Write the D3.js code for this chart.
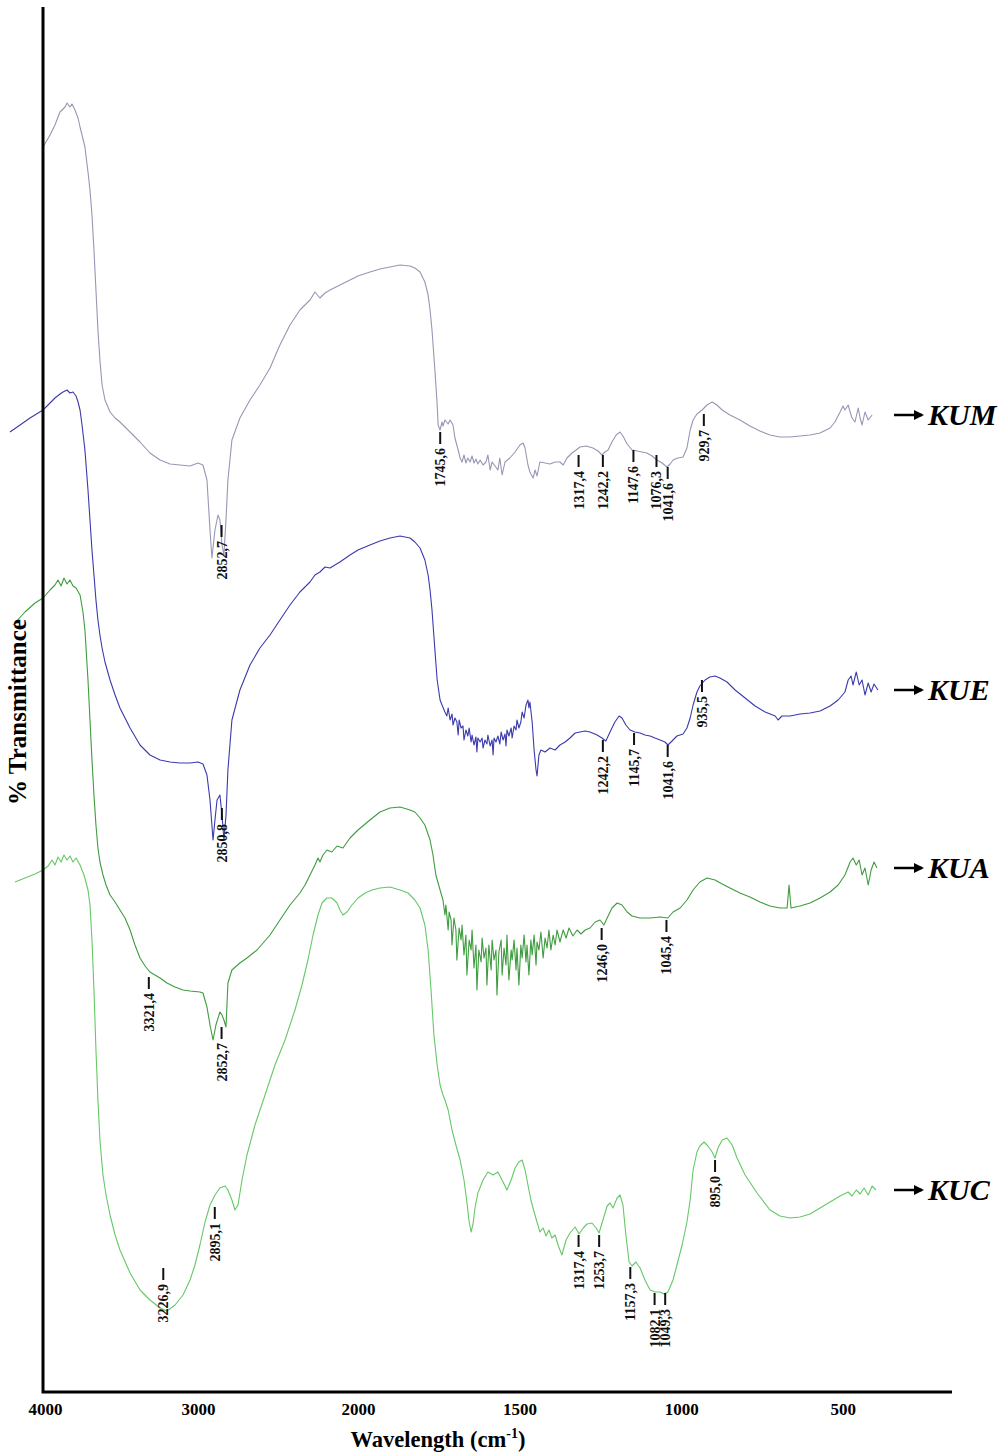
<!DOCTYPE html>
<html>
<head>
<meta charset="utf-8">
<script src="https://cdn.jsdelivr.net/npm/d3@7"></script>
<style>
  body { margin: 0; background: #fff; }
  svg { display: block; }
</style>
</head>
<body>
<svg id="chart" width="1005" height="1454"></svg>
<script>
// ---- data -------------------------------------------------------------
// x ticks (wavenumber, cm-1)
const tickValues = [4000, 3000, 2000, 1500, 1000, 500];

// sample names, top to bottom
const sampleNames = ["KUM", "KUE", "KUA", "KUC"];

// spectra: [wavenumber (cm-1), stacked transmittance (a.u.)]
const kumSpectrum = [
  [4013,124.5],[3967,125.7],[3935,126.7],[3902,128.0],[3869,128.5],[3856,128.9],[3837,128.5],
  [3824,128.8],[3804,128.2],[3784,127.4],[3771,126.5],[3758,125.7],[3739,124.5],[3719,122.0],
  [3706,120.2],[3693,117.7],[3680,114.2],[3667,110.2],[3654,106.2],[3641,103.2],[3627,100.7],
  [3608,99.2],[3575,98.0],[3542,97.4],[3510,97.0],[3444,96.0],[3379,95.0],[3314,93.9],
  [3248,93.2],[3183,92.8],[3118,92.7],[3052,92.6],[3000,92.9],[2969,92.7],[2944,91.2],
  [2925,86.2],[2913,83.4],[2894,86.2],[2875,87.7],[2863,87.2],[2850,84.7],[2838,83.7],
  [2825,87.2],[2813,91.2],[2788,95.2],[2738,97.4],[2675,99.2],[2613,100.7],[2550,102.4],
  [2488,104.7],[2425,106.7],[2363,108.2],[2300,109.2],[2269,110.0],[2238,109.4],[2206,109.9],
  [2175,110.2],[2113,110.7],[2050,111.2],[2000,111.6],[1963,112.0],[1932,112.3],[1901,112.5],
  [1870,112.7],[1839,112.6],[1824,112.4],[1808,112.0],[1793,111.0],[1783,109.7],[1777,108.2],
  [1771,106.2],[1762,102.2],[1755,98.7],[1752,96.7],[1746,96.2],[1740,97.0],[1737,96.6],
  [1731,97.2],[1721,96.8],[1715,97.2],[1706,96.7],[1700,95.4],[1690,94.2],[1684,93.4],
  [1678,93.0],[1672,93.7],[1666,92.9],[1660,93.4],[1653,93.0],[1647,93.6],[1641,92.9],
  [1635,93.3],[1629,92.8],[1622,93.2],[1613,92.7],[1604,93.0],[1598,93.7],[1591,92.2],
  [1585,93.0],[1576,92.6],[1567,92.2],[1561,93.4],[1554,91.7],[1545,93.0],[1530,93.4],
  [1514,94.0],[1499,94.7],[1489,94.9],[1483,94.4],[1474,92.7],[1468,92.0],[1458,91.4],
  [1452,92.2],[1446,91.6],[1437,93.0],[1421,92.9],[1406,92.8],[1390,93.0],[1375,93.0],
  [1365,92.7],[1353,93.4],[1338,93.9],[1325,94.2],[1313,94.5],[1294,94.6],[1273,94.4],
  [1257,94.1],[1245,93.7],[1236,94.0],[1226,94.2],[1214,95.0],[1201,95.7],[1189,96.0],
  [1180,95.6],[1167,94.8],[1152,94.2],[1136,94.1],[1121,94.0],[1106,93.9],[1090,93.6],
  [1075,93.2],[1059,92.9],[1044,92.5],[1034,92.8],[1025,93.2],[1010,93.4],[994,93.5],
  [982,94.4],[972,96.2],[963,97.2],[951,97.8],[935,98.2],[920,98.7],[904,99.0],[889,98.7],
  [873,98.2],[849,97.7],[818,97.2],[787,96.6],[756,96.1],[725,95.7],[694,95.5],[663,95.5],
  [632,95.6],[601,95.7],[570,95.9],[539,96.4],[524,97.0],[508,98.0],[499,98.6],[493,98.2],
  [483,98.7],[477,98.0],[471,97.4],[462,97.0],[452,98.4],[446,97.4],[440,96.7],[431,98.0],
  [421,97.2],[409,97.7]
];

const kueSpectrum = [
  [4229,96.0],[4163,96.7],[4098,97.4],[4013,98.2],[3967,98.9],[3935,99.4],[3902,99.8],
  [3882,100.0],[3856,100.2],[3837,99.9],[3817,100.0],[3797,99.6],[3784,99.0],[3771,98.2],
  [3758,96.7],[3739,94.2],[3719,90.2],[3706,87.2],[3693,84.2],[3680,81.7],[3667,79.2],
  [3654,77.2],[3641,75.7],[3627,74.4],[3608,73.0],[3575,71.2],[3542,69.7],[3510,68.4],
  [3444,66.4],[3379,64.7],[3314,63.7],[3248,63.2],[3183,63.0],[3118,62.9],[3052,62.9],
  [3000,63.0],[2969,62.8],[2944,61.7],[2925,59.2],[2906,55.2],[2894,57.2],[2881,59.2],
  [2863,59.7],[2850,57.7],[2838,55.2],[2825,57.7],[2813,62.2],[2788,67.2],[2738,70.2],
  [2675,72.7],[2613,74.4],[2550,75.7],[2488,77.2],[2425,78.7],[2363,80.0],[2300,81.0],
  [2269,81.7],[2238,82.0],[2206,82.5],[2175,82.4],[2113,83.0],[2050,83.7],[2000,84.2],
  [1963,84.7],[1932,85.1],[1901,85.4],[1870,85.6],[1839,85.4],[1824,85.0],[1808,84.4],
  [1793,83.2],[1783,81.7],[1777,80.2],[1771,78.2],[1762,74.2],[1755,71.2],[1746,69.2],
  [1740,68.7],
  [1731,68.0],[1725,67.6],[1721,68.4],[1715,67.2],[1709,67.8],[1706,66.7],[1700,67.4],
  [1694,67.0],[1690,65.7],[1687,67.2],[1681,66.4],[1675,66.6],[1672,65.2],[1666,66.2],
  [1660,65.6],[1656,66.4],[1650,65.0],[1647,65.7],[1641,64.7],[1635,65.5],[1632,64.0],
  [1629,65.4],[1622,65.0],[1616,65.4],[1613,64.4],[1607,65.2],[1601,64.8],[1598,65.7],
  [1591,64.6],[1585,65.2],[1582,63.7],[1579,65.4],[1573,65.0],[1567,65.6],[1561,64.8],
  [1557,66.0],[1551,65.2],[1545,65.8],[1542,64.6],[1539,66.2],[1533,65.6],[1526,66.4],
  [1523,65.4],[1517,66.6],[1511,66.2],[1508,67.2],[1502,66.4],[1496,67.0],[1492,68.0],
  [1486,67.4],[1480,68.7],[1474,69.2],[1471,68.4],[1468,69.0],[1461,67.0],[1455,64.2],
  [1449,62.2],[1446,61.6],[1440,63.7],[1434,64.2],
  [1421,64.0],[1406,64.4],[1390,64.2],[1375,64.7],[1359,65.0],[1344,65.4],
  [1328,65.9],[1313,66.0],[1297,66.1],[1282,66.0],[1260,65.7],[1245,65.4],[1233,65.1],
  [1220,66.0],[1205,67.0],[1192,67.6],[1183,67.4],[1171,66.7],[1158,66.2],[1143,66.0],
  [1127,65.9],[1112,65.7],[1096,65.6],[1081,65.4],[1065,65.2],[1050,65.0],[1041,64.7],
  [1028,65.1],[1013,65.6],[994,65.8],[982,66.4],[972,67.4],[963,68.7],[951,70.0],[942,70.6],
  [926,71.2],[911,71.5],[895,71.6],[880,71.4],[858,71.0],[833,70.2],[802,69.4],[771,68.6],
  [740,68.0],[709,67.6],[700,67.2],[688,67.6],[663,67.6],[632,67.8],[601,67.9],[570,68.1],
  [539,68.6],[514,69.2],[493,70.0],[483,71.2],[474,71.6],[468,70.7],[458,72.0],[449,70.7],
  [440,71.2],[431,69.7],[421,70.9],[412,70.0],[403,70.8],[391,70.2]
];

const kuaSpectrum = [
  [4209,76.7],[4131,78.0],[4065,78.9],[4013,79.4],[3967,80.2],[3935,80.7],[3915,81.2],
  [3895,80.6],[3876,81.4],[3856,80.8],[3837,81.2],[3817,80.6],[3797,80.4],[3771,79.7],
  [3752,78.0],[3739,76.2],[3719,71.2],[3706,67.2],[3693,63.2],[3680,59.7],[3667,56.7],
  [3654,54.4],[3641,53.0],[3621,51.7],[3601,50.7],[3575,49.7],[3542,49.0],[3510,48.2],
  [3477,47.4],[3444,46.2],[3412,44.7],[3379,43.4],[3346,42.6],[3314,42.0],[3248,41.4],
  [3203,40.9],[3150,40.5],[3098,40.2],[3052,40.1],[2988,40.0],[2969,39.9],[2944,38.5],
  [2925,36.7],[2906,35.2],[2888,36.7],[2863,38.0],[2850,37.7],[2838,37.2],[2825,36.5],
  [2813,40.9],[2788,42.2],[2738,42.9],[2694,43.4],[2631,44.2],[2550,45.7],[2488,47.2],
  [2425,48.7],[2363,49.9],[2331,50.7],[2300,51.7],[2269,52.7],[2250,53.4],[2238,53.0],
  [2219,53.7],[2194,54.2],[2163,54.0],[2131,54.6],[2094,54.4],[2050,55.4],[2000,56.2],
  [1963,57.2],[1932,58.0],[1901,58.4],[1870,58.5],[1839,58.2],[1824,58.0],[1808,57.4],
  [1793,56.7],[1777,55.2],[1768,53.7],[1759,51.7],[1746,50.2],[1737,49.2],
  [1731,47.7],[1728,48.7],[1721,46.2],[1718,48.0],[1712,47.2],[1709,44.7],[1703,47.4],
  [1697,46.2],[1694,43.2],[1687,46.4],[1681,45.2],[1678,46.7],[1672,43.7],[1666,45.7],
  [1663,41.7],[1656,45.2],[1650,44.2],[1647,46.2],[1641,42.4],[1635,44.7],[1632,40.2],
  [1626,44.2],[1619,43.0],[1616,45.4],[1610,43.4],[1604,44.4],[1601,40.7],[1595,44.7],
  [1588,42.2],[1585,45.2],[1579,43.2],[1573,44.2],[1570,39.7],[1564,44.0],[1557,45.2],
  [1554,41.7],[1548,44.4],[1542,42.7],[1539,45.7],[1533,41.2],[1526,44.2],[1523,43.2],
  [1517,45.2],[1511,42.2],[1508,44.4],[1502,40.7],[1496,44.7],[1492,43.4],[1486,45.7],
  [1480,43.0],[1477,44.7],[1471,41.7],[1465,45.2],[1461,43.7],[1455,45.7],[1449,42.7],
  [1446,45.0],[1440,44.2],[1434,46.0],[1427,43.4],[1421,45.4],[1415,44.4],[1409,46.2],
  [1403,44.2],[1396,45.7],[1390,44.7],[1384,46.2],[1375,45.0],[1365,46.2],[1356,45.4],
  [1347,46.4],[1335,45.6],[1322,46.2],[1310,45.8],
  [1297,46.2],[1282,46.4],[1266,47.0],[1251,47.2],[1239,46.7],[1229,47.4],[1214,48.4],
  [1198,48.9],[1183,48.7],[1167,48.0],[1152,47.6],[1127,47.4],[1096,47.4],[1065,47.5],
  [1041,47.4],[1025,48.0],[1003,48.4],[982,49.2],[963,50.2],[942,51.0],[920,51.4],[895,51.2],
  [873,50.8],[849,50.4],[818,49.9],[787,49.5],[756,49.0],[725,48.6],[694,48.4],[672,48.4],
  [666,50.7],[660,48.4],[632,48.6],[601,48.9],[570,49.4],[539,50.0],[514,50.7],[493,51.7],
  [477,53.0],[468,53.4],[458,52.7],[449,53.2],[440,51.7],[431,52.4],[421,50.7],[412,52.2],
  [403,53.0],[394,52.4]
];

const kucSpectrum = [
  [4196,51.0],[4131,51.4],[4065,51.8],[4013,52.2],[3980,52.6],[3954,53.2],[3935,52.7],
  [3915,53.5],[3895,53.0],[3876,53.7],[3856,53.2],[3837,53.6],[3817,53.0],[3797,53.4],
  [3771,52.7],[3745,51.7],[3719,50.2],[3706,48.7],[3693,45.2],[3680,40.2],[3667,34.2],
  [3654,29.2],[3641,25.2],[3621,21.7],[3601,19.7],[3575,17.7],[3542,15.7],[3510,14.2],
  [3444,11.9],[3379,10.2],[3314,9.2],[3248,8.4],[3203,8.1],[3150,8.7],[3098,9.7],[3052,11.2],
  [3020,12.7],[2988,14.7],[2956,17.0],[2925,18.7],[2894,19.7],[2863,20.4],[2831,20.6],
  [2813,20.2],[2788,19.2],[2769,18.2],[2750,18.7],[2725,21.2],[2694,23.7],[2644,26.7],
  [2581,29.7],[2519,32.7],[2456,35.2],[2394,38.2],[2350,40.7],[2313,43.2],[2281,45.7],
  [2250,47.7],[2225,48.9],[2194,49.4],[2163,49.4],[2131,48.9],[2113,48.2],[2094,47.7],
  [2069,48.0],[2038,48.7],[2000,49.4],[1978,49.9],[1957,50.2],[1932,50.4],[1901,50.5],
  [1870,50.2],[1845,49.9],[1824,49.2],[1808,48.4],[1793,46.7],[1783,44.2],[1774,40.2],
  [1765,35.7],[1755,32.7],[1746,30.7],[1737,29.7],[1731,29.2],[1721,28.2],[1709,26.2],
  [1697,24.7],[1684,23.2],[1672,21.2],[1663,19.0],[1656,17.0],[1650,16.0],[1644,16.8],
  [1638,18.4],[1629,19.9],[1613,21.2],[1598,22.0],[1582,21.7],[1567,22.0],[1551,21.0],
  [1539,20.2],[1526,21.2],[1514,22.4],[1502,23.0],[1492,23.2],[1483,22.2],[1474,20.7],
  [1465,19.2],[1455,18.0],[1446,17.0],[1437,16.0],[1427,16.4],[1418,15.6],[1409,16.2],
  [1400,15.4],[1390,15.7],[1381,14.7],[1369,13.7],[1356,15.2],[1344,15.9],[1328,16.5],
  [1316,15.8],[1303,16.4],[1291,16.8],[1276,16.9],[1263,16.4],[1254,15.9],[1242,17.2],
  [1229,18.6],[1220,18.9],[1211,18.4],[1198,19.4],[1189,19.7],[1180,18.7],[1171,15.7],
  [1161,13.0],[1152,12.6],[1140,13.0],[1127,12.4],[1112,11.2],[1096,10.2],[1081,10.0],
  [1065,10.0],[1053,9.8],[1041,10.0],[1025,11.2],[1013,12.7],[997,14.7],[982,17.0],
  [972,19.2],[963,22.2],[951,24.0],[942,24.6],[929,25.0],[917,24.6],[904,24.0],[895,23.4],
  [886,24.4],[873,25.2],[858,25.4],[842,24.7],[827,23.4],[802,21.7],[765,19.9],[725,18.2],
  [694,17.6],[663,17.4],[632,17.5],[601,17.8],[570,18.4],[539,19.0],[508,19.6],[483,20.0],
  [471,19.6],[458,20.2],[446,19.8],[434,20.4],[421,19.7],[409,20.6],[397,20.2]
];

// marked bands: [wavenumber, transmittance level where the marker starts]
const kumPeaks = [[2852.7,86.7],[1745.6,96.0],[1317.4,93.7],[1242.2,93.7],[1147.6,94.2],
                  [1076.3,93.7],[1041.6,92.5],[929.7,97.8]];
const kuePeaks = [[2850.8,58.4],[1242.2,65.2],[1145.7,65.9],[1041.6,64.7],[935.5,71.2]];
const kuaPeaks = [[3321.4,41.5],[2852.7,36.5],[1246.0,46.4],[1045.4,47.2]];
const kucPeaks = [[3226.9,12.4],[2895.1,18.5],[1317.4,15.7],[1253.7,15.7],[1157.3,12.5],
                  [1082.1,9.9],[1049.3,9.9],[895.0,23.2]];

const lineColors = ["#9797b6", "#3a3aae", "#3f9c3f", "#66c866"];

// ---- layout -----------------------------------------------------------
const svg = d3.select("#chart");
const axisY = 1392, axisLeft = 43, axisRight = 952, axisTop = 7;

// split wavenumber axis: expanded below 2000 cm-1
const x = d3.scaleLinear()
  .domain([4000, 3000, 2000, 400])
  .range([45, 198, 358, 875]);
const y = d3.scaleLinear().domain([0, 138.4]).range([axisY, 8]);

const serif = "'Liberation Serif', 'Times New Roman', serif";

const spectra = [kumSpectrum, kueSpectrum, kuaSpectrum, kucSpectrum];
const peaks = [kumPeaks, kuePeaks, kuaPeaks, kucPeaks];

const line = d3.line().x(d => x(d[0])).y(d => y(d[1]));

svg.append("g").selectAll("path")
  .data(spectra)
  .join("path")
  .attr("d", line)
  .attr("fill", "none")
  .attr("stroke", (d, i) => lineColors[i])
  .attr("stroke-width", 1.1)
  .attr("stroke-linejoin", "round");

// band markers
const fmt = v => d3.format(".1f")(v).replace(".", ",");
const peakG = svg.append("g");
peaks.forEach(list => {
  list.forEach(([wn, t]) => {
    const px = x(wn), py = y(t);
    peakG.append("line")
      .attr("x1", px).attr("x2", px)
      .attr("y1", py).attr("y2", py + 12)
      .attr("stroke", "#111").attr("stroke-width", 2);
    peakG.append("text")
      .attr("transform", `translate(${px + 5},${py + 16}) rotate(-90)`)
      .attr("text-anchor", "end")
      .attr("font-family", serif)
      .attr("font-weight", "bold")
      .attr("font-size", 14)
      .attr("fill", "#111")
      .text(fmt(wn));
  });
});

// sample names with arrows at the end of each trace
svg.append("defs").append("marker")
  .attr("id", "arrowhead")
  .attr("viewBox", "0 0 10 10").attr("refX", 8).attr("refY", 5)
  .attr("markerWidth", 4).attr("markerHeight", 4)
  .attr("orient", "auto")
  .append("path").attr("d", "M0,0 L10,5 L0,10 Z").attr("fill", "#000");

spectra.forEach((s, i) => {
  const last = s[s.length - 1];
  const ly = y(last[1]);
  svg.append("line")
    .attr("x1", 894).attr("x2", 922)
    .attr("y1", ly).attr("y2", ly)
    .attr("stroke", "#000").attr("stroke-width", 2.5)
    .attr("marker-end", "url(#arrowhead)");
  svg.append("text")
    .attr("x", 928).attr("y", ly + 10)
    .attr("font-family", serif)
    .attr("font-weight", "bold").attr("font-style", "italic")
    .attr("font-size", 30)
    .attr("fill", "#000")
    .text(sampleNames[i]);
});

// axes
const xAxis = d3.axisBottom(x)
  .tickValues(tickValues)
  .tickSize(0)
  .tickPadding(11)
  .tickFormat(d3.format("d"));
const gx = svg.append("g").attr("transform", `translate(0,${axisY})`).call(xAxis);
gx.select(".domain").remove();
gx.selectAll("text")
  .attr("font-family", serif).attr("font-weight", "bold")
  .attr("font-size", 17).attr("fill", "#000");

svg.append("path")
  .attr("d", `M${axisLeft},${axisTop} V${axisY} H${axisRight}`)
  .attr("fill", "none").attr("stroke", "#000").attr("stroke-width", 3);

const xTitle = svg.append("text")
  .attr("x", 438).attr("y", 1447)
  .attr("text-anchor", "middle")
  .attr("font-family", serif).attr("font-weight", "bold").attr("font-size", 22.5)
  .attr("fill", "#000");
xTitle.append("tspan").text("Wavelength (cm");
xTitle.append("tspan").attr("font-size", 14).attr("dy", -9).text("-1");
xTitle.append("tspan").attr("dy", 9).text(")");

svg.append("text")
  .attr("transform", "translate(26,712) rotate(-90)")
  .attr("text-anchor", "middle")
  .attr("font-family", serif).attr("font-weight", "bold").attr("font-size", 25)
  .attr("fill", "#000")
  .text("% Transmittance");
</script>
</body>
</html>
